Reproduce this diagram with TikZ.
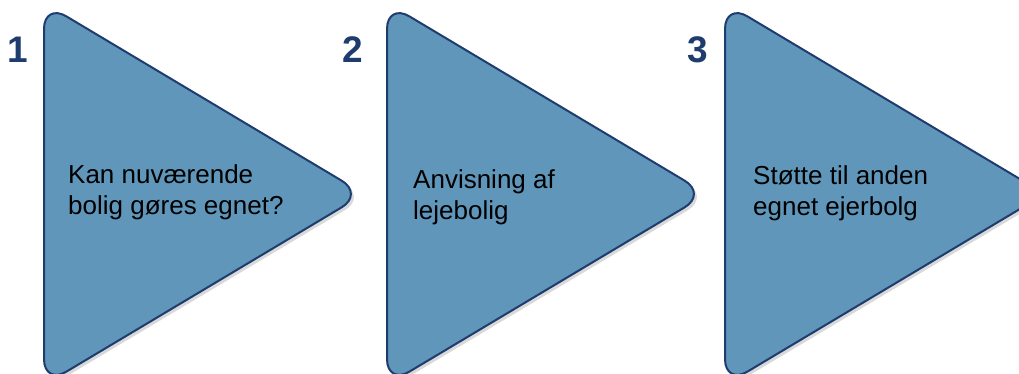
\documentclass[tikz,border=0pt]{standalone}
\usepackage{fontspec}
\setmainfont{Liberation Sans}
\usetikzlibrary{shadows}
\definecolor{stepfill}{RGB}{96,150,186}
\definecolor{stepline}{RGB}{30,60,110}

\begin{document}
\begin{tikzpicture}[x=1pt,y=-1pt]
 \tikzset{arrow style ge/.style={fill=stepfill, draw=stepline, line width=2pt,
        rounded corners=26pt,
        drop shadow={opacity=0.3, shadow xshift=3pt, shadow yshift=-3pt}}}
 \tikzset{number style ge/.style={anchor=base, text=stepline,
        font=\fontsize{37}{37}\selectfont\bfseries}}
 \tikzset{label style ge/.style={anchor=base west, align=left, inner sep=0pt,
        font=\fontsize{26}{31}\selectfont}}
 \useasboundingbox (0,0) rectangle (1019,374);

 \foreach \x in {44, 387, 725}
 {
   \draw [arrow style ge] (\x,3) -- (\x+320,194) -- (\x,385) -- cycle;
 }

 \node [number style ge] (N1) at (18,63) {1};
 \node [number style ge] (N2) at (353,63) {2};
 \node [number style ge] (N3) at (698,63) {3};

 % base anchor sits on the last line
 \node [label style ge] (T1) at (68,214) {Kan nuværende\\bolig gøres egnet?};
 \node [label style ge] (T2) at (413,219) {Anvisning af\\lejebolig};
 \node [label style ge] (T3) at (753,215) {Støtte til anden\\egnet ejerbolg};
\end{tikzpicture}
\end{document}
